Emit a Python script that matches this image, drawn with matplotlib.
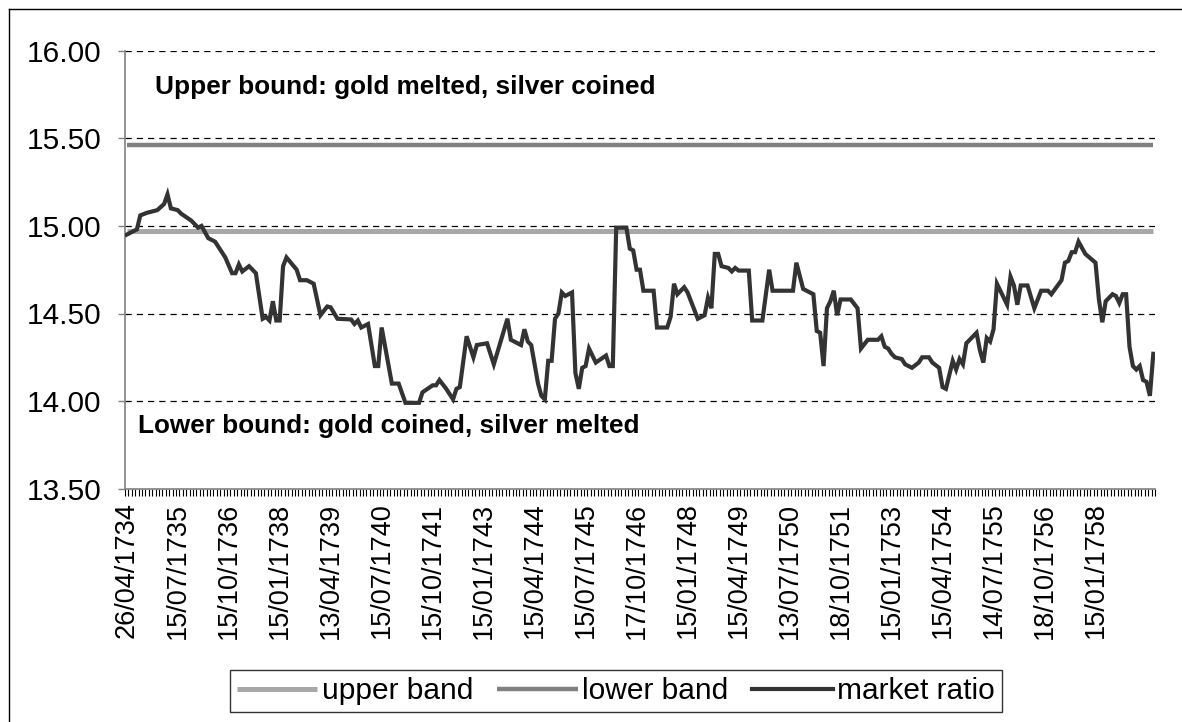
import numpy as np
import matplotlib
matplotlib.use("Agg")
import matplotlib.pyplot as plt
from matplotlib.lines import Line2D

plt.rcParams['font.family'] = ['Liberation Sans', 'DejaVu Sans']

# Monthly observations (category index) where the market line turns, and its value
market_idx = [0, 1, 3, 4, 6, 9, 11, 12, 13, 15, 16, 19, 21, 22, 24, 26, 29, 31, 32, 33,
              34, 36, 38, 40, 41, 42, 43, 44, 45, 46, 47, 50, 51, 53, 55, 57, 59, 60, 62, 66,
              67, 68, 69, 71, 73, 74, 75, 78, 80, 82, 86, 87, 90, 91, 92, 94, 96, 97, 98, 100,
              102, 103, 106, 108, 110, 112, 113, 116, 117, 118, 119, 121, 122, 123, 124, 125, 126, 127, 128, 129,
              131, 132, 133, 134, 135, 136, 138, 141, 142, 143, 144, 147, 148, 149, 150, 151, 152, 155, 156, 159,
              160, 161, 162, 164, 165, 167, 168, 170, 171, 172, 173, 174, 175, 177, 178, 179, 180, 183, 184, 187,
              189, 190, 196, 197, 199, 201, 202, 203, 204, 205, 206, 207, 208, 209, 210, 213, 215, 216, 218, 221,
              222, 223, 224, 225, 226, 228, 229, 231, 233, 234, 236, 237, 239, 240, 241, 243, 244, 245, 246, 247,
              250, 251, 252, 253, 254, 255, 256, 259, 260, 261, 262, 263, 265, 267, 269, 271, 272, 275, 276, 277,
              278, 279, 280, 282, 285, 286, 287, 288, 290, 291, 292, 293, 294, 295, 296, 297, 298, 299, 300, 301,
              302]
market_ratio = [14.95, 14.96, 14.98, 15.06, 15.075, 15.09, 15.125, 15.18, 15.10, 15.09, 15.07, 15.03, 14.99, 15.00, 14.93, 14.91, 14.82, 14.73, 14.73, 14.78,
                14.74, 14.77, 14.73, 14.47, 14.48, 14.46, 14.57, 14.46, 14.46, 14.77, 14.82, 14.75, 14.69, 14.69, 14.67, 14.49, 14.54, 14.535, 14.47, 14.466,
                14.44, 14.46, 14.42, 14.44, 14.20, 14.20, 14.42, 14.10, 14.10, 13.99, 13.99, 14.05, 14.09, 14.09, 14.12, 14.07, 14.01, 14.07, 14.08, 14.37,
                14.25, 14.32, 14.33, 14.21, 14.34, 14.47, 14.35, 14.32, 14.41, 14.34, 14.32, 14.10, 14.03, 14.01, 14.23, 14.23, 14.47, 14.50, 14.62, 14.60,
                14.62, 14.16, 14.07, 14.19, 14.20, 14.30, 14.22, 14.26, 14.20, 14.20, 14.99, 14.99, 14.87, 14.86, 14.75, 14.75, 14.63, 14.63, 14.42, 14.42,
                14.48, 14.67, 14.61, 14.65, 14.62, 14.52, 14.47, 14.49, 14.59, 14.53, 14.84, 14.84, 14.77, 14.76, 14.74, 14.76, 14.745, 14.745, 14.46, 14.46,
                14.75, 14.63, 14.63, 14.79, 14.64, 14.62, 14.61, 14.40, 14.39, 14.20, 14.53, 14.57, 14.63, 14.49, 14.58, 14.58, 14.53, 14.30, 14.35, 14.35,
                14.37, 14.31, 14.30, 14.27, 14.25, 14.24, 14.21, 14.19, 14.22, 14.25, 14.25, 14.22, 14.19, 14.08, 14.07, 14.23, 14.18, 14.24, 14.21, 14.33,
                14.39, 14.29, 14.22, 14.36, 14.34, 14.41, 14.67, 14.55, 14.71, 14.66, 14.55, 14.66, 14.66, 14.53, 14.63, 14.63, 14.61, 14.69, 14.79, 14.80,
                14.85, 14.85, 14.91, 14.84, 14.79, 14.58, 14.45, 14.57, 14.61, 14.60, 14.56, 14.61, 14.61, 14.31, 14.20, 14.18, 14.20, 14.12, 14.11, 14.03,
                14.27]

n_months = 303
upper_band = 14.97
lower_band = 15.46

date_labels = ['26/04/1734', '15/07/1735', '15/10/1736', '15/01/1738', '13/04/1739',
               '15/07/1740', '15/10/1741', '15/01/1743', '15/04/1744', '15/07/1745',
               '17/10/1746', '15/01/1748', '15/04/1749', '13/07/1750', '18/10/1751',
               '15/01/1753', '15/04/1754', '14/07/1755', '18/10/1756', '15/01/1758']
label_every = 15

fig = plt.figure(figsize=(11.82, 7.22), dpi=100)
ax = fig.add_axes([125 / 1182, 1 - 488.7 / 722, 1030 / 1182, 438 / 722])

months = np.arange(n_months)
ax.plot(months, np.full(n_months, upper_band), color='#A8A8A8', lw=3.6,
        solid_capstyle='butt', label='upper band', zorder=2)
ax.plot(months, np.full(n_months, lower_band), color='#808080', lw=3.2,
        solid_capstyle='butt', label='lower band', zorder=2)
ax.plot(market_idx, market_ratio, color='#333333', lw=3.0,
        solid_joinstyle='miter', label='market ratio', zorder=3)

ax.set_xlim(-0.5, n_months - 0.5)
ax.set_ylim(13.5, 16.0)

# y axis
yt = [13.5, 14.0, 14.5, 15.0, 15.5, 16.0]
ax.set_yticks(yt)
ax.set_yticklabels(['%.2f' % v for v in yt], fontsize=21.5)
ax.tick_params(axis='y', direction='out', length=5, width=1, color='#808080', pad=12)
for v in yt[1:]:
    ax.axhline(v, color='black', lw=0.9, ls=(0, (5, 4)), zorder=1)

# x axis: tick marks between categories, labels every 15 months
ax.set_xticks(np.arange(len(date_labels)) * label_every)
ax.set_xticklabels(date_labels, rotation=90, fontsize=19.5)
ax.set_xticks(np.arange(n_months + 1) - 0.5, minor=True)
ax.tick_params(axis='x', which='major', length=0, pad=10)
ax.tick_params(axis='x', which='minor', direction='out', length=5, width=0.8, color='black')

for s in ['top', 'right']:
    ax.spines[s].set_visible(False)
ax.spines['left'].set_color('#808080')
ax.spines['bottom'].set_color('#808080')
ax.spines['left'].set_linewidth(1.2)
ax.spines['bottom'].set_linewidth(1.2)

ax.text(0.029, 15.79, 'Upper bound: gold melted, silver coined', transform=ax.get_yaxis_transform(),
        fontsize=18.8, fontweight='bold', va='center', ha='left')
ax.text(0.0126, 13.86, 'Lower bound: gold coined, silver melted', transform=ax.get_yaxis_transform(),
        fontsize=18.8, fontweight='bold', va='center', ha='left')

leg = fig.legend(loc='center', bbox_to_anchor=(616 / 1182, 1 - 691 / 722), ncol=3,
                 fontsize=21.5, frameon=True, fancybox=False, handlelength=2.7,
                 handletextpad=0.15, columnspacing=0.8, borderpad=0.22, borderaxespad=0)
leg.get_frame().set_edgecolor('black')
leg.get_frame().set_linewidth(1.0)

# outer chart border
fig.add_artist(Line2D([8.5 / 1182, 8.5 / 1182], [0, 1 - 8.5 / 722], color='black', lw=1.0))
fig.add_artist(Line2D([8.5 / 1182, 1], [1 - 8.5 / 722, 1 - 8.5 / 722], color='black', lw=1.0))

fig.savefig('out.png', dpi=100)
